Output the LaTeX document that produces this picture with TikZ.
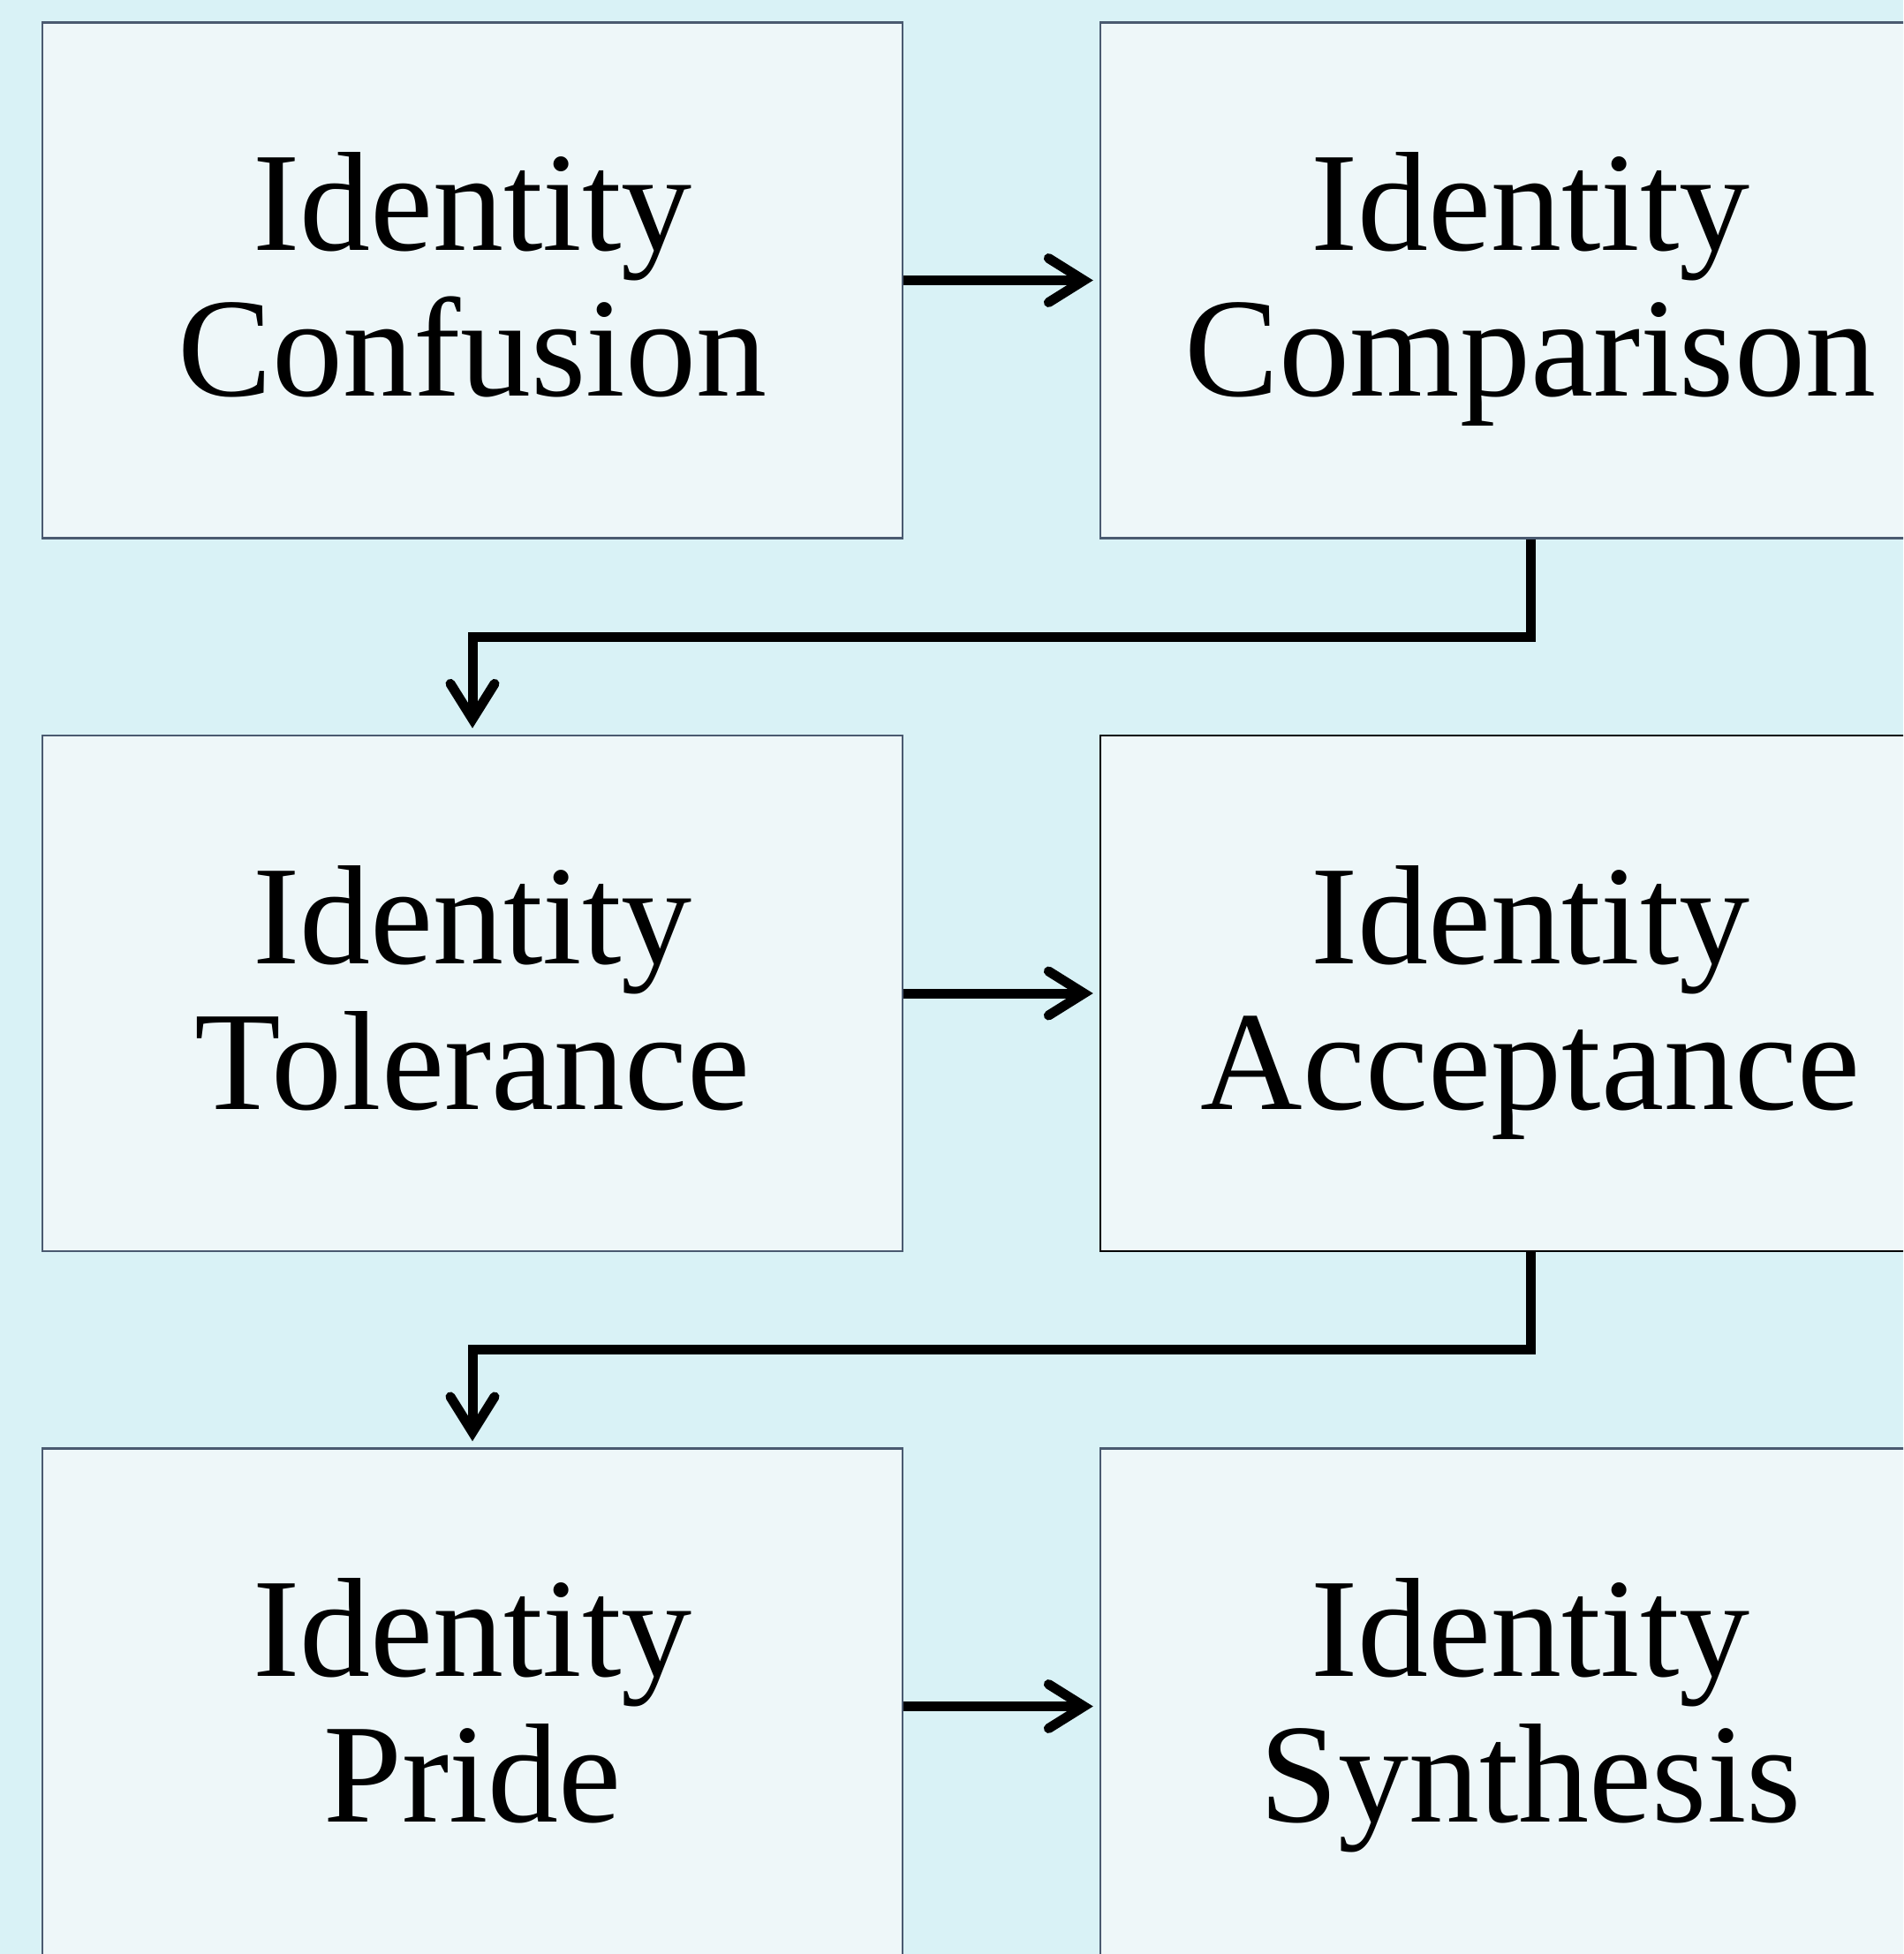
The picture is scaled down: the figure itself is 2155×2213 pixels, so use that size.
\documentclass[tikz,border=0pt]{standalone}
\usepackage{fontspec}
\setmainfont{Liberation Serif}
\usetikzlibrary{arrows.meta,calc}
\definecolor{bgc}{HTML}{D9F2F6}
\definecolor{boxfill}{HTML}{EEF7F9}
\definecolor{boxline}{HTML}{4A5A70}
\newcommand\stageline[1]{\rule[-40pt]{0pt}{165pt}#1}
\tikzset{
  stagebox/.style={rectangle, draw=boxline, fill=boxfill, line width=2.5pt,
    minimum width=974pt, minimum height=584pt, inner sep=0pt, align=center,
    font=\fontsize{160}{165}\selectfont},
  stagetext/.style={yshift=-6pt},
  flow/.style={line width=11pt, black,
    -{Straight Barb[length=40pt,width=50pt,line cap=round]}, shorten >=7pt}
}
\begin{document}
\begin{tikzpicture}[x=1pt,y=-1pt]
\fill[bgc] (0,0) rectangle (2155,2213);
\useasboundingbox (0,0) rectangle (2155,2213);
\clip (0,0) rectangle (2155,2213);
\node[stagebox] (conf) at (535,317.5) {};
\node[stagebox] (comp) at (1733,317.5) {};
\node[stagebox] (tol) at (535,1125) {};
\node[stagebox, draw=black] (acc) at (1733,1125) {};
\node[stagebox] (pride) at (535,1932.5) {};
\node[stagebox] (synth) at (1733,1932.5) {};
\node[align=center, inner sep=0pt, font=\fontsize{160}{165}\selectfont, stagetext] (confT) at (conf.center) {\stageline{Identity}\\\stageline{Confusion}};
\node[align=center, inner sep=0pt, font=\fontsize{160}{165}\selectfont, stagetext] (compT) at (comp.center) {\stageline{Identity}\\\stageline{Comparison}};
\node[align=center, inner sep=0pt, font=\fontsize{160}{165}\selectfont, stagetext] (tolT) at (tol.center) {\stageline{Identity}\\\stageline{Tolerance}};
\node[align=center, inner sep=0pt, font=\fontsize{160}{165}\selectfont, stagetext] (accT) at (acc.center) {\stageline{Identity}\\\stageline{Acceptance}};
\node[align=center, inner sep=0pt, font=\fontsize{160}{165}\selectfont, stagetext] (prideT) at (pride.center) {\stageline{Identity}\\\stageline{Pride}};
\node[align=center, inner sep=0pt, font=\fontsize{160}{165}\selectfont, stagetext] (synthT) at (synth.center) {\stageline{Identity}\\\stageline{Synthesis}};
\draw[flow] (conf.east) -- (comp.west);
\draw[flow] (tol.east) -- (acc.west);
\draw[flow] (pride.east) -- (synth.west);
\draw[flow, line join=miter] (comp.south) -- ($(comp.south)!.5!(acc.north)$) -| (tol.north);
\draw[flow, line join=miter] (acc.south) -- ($(acc.south)!.5!(synth.north)$) -| (pride.north);
\end{tikzpicture}
\end{document}
